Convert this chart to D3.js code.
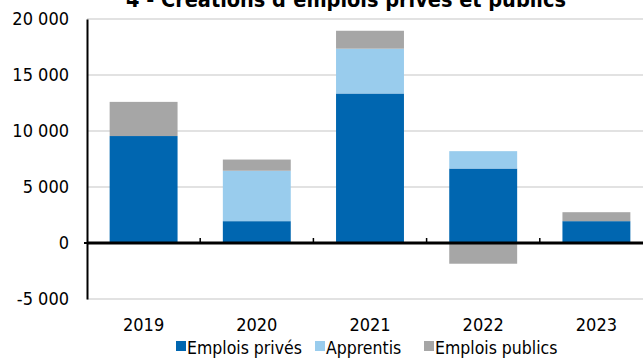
<!DOCTYPE html>
<html>
<head>
<meta charset="utf-8">
<script src="https://cdn.jsdelivr.net/npm/d3@7"></script>
<style>
  html, body { margin: 0; padding: 0; background: #fff; overflow: hidden; }
  svg { display: block; font-family: "DejaVu Sans Condensed", "DejaVu Sans", sans-serif; }
</style>
</head>
<body>
<div id="chart"></div>
<script>
const years = ['2019', '2020', '2021', '2022', '2023'];
const emploisPrives = [9550, 1950, 13350, 6650, 1950];
const apprentis = [0, 4500, 4000, 1550, 0];
const emploisPublics = [3050, 1000, 1600, -1850, 800];
const yTicks = [-5000, 0, 5000, 10000, 15000, 20000];

const seriesNames = ['Emplois privés', 'Apprentis', 'Emplois publics'];
const colors = ['#0066b0', '#99cced', '#a6a6a6'];

const width = 643, height = 358;
const margin = { top: 19, left: 87, bottom: 59 };
const plotWidth = 566;

const svg = d3.select('#chart').append('svg')
    .attr('width', width)
    .attr('height', height);

const x = d3.scaleBand()
    .domain(years)
    .range([margin.left, margin.left + plotWidth])
    .paddingInner(0.4)
    .paddingOuter(0.2);

const y = d3.scaleLinear()
    .domain([-5000, 20000])
    .range([height - margin.bottom, margin.top]);

// gridlines
svg.append('g')
    .selectAll('line')
    .data(yTicks.filter(d => d !== 0))
    .join('line')
    .attr('x1', margin.left)
    .attr('x2', margin.left + plotWidth)
    .attr('y1', d => y(d))
    .attr('y2', d => y(d))
    .attr('stroke', '#d9d9d9')
    .attr('stroke-width', 1.5);

// stack: positives go up from 0, negatives go down from 0
const seriesData = [emploisPrives, apprentis, emploisPublics];
const bars = [];
years.forEach((yr, i) => {
  let pos = 0, neg = 0;
  seriesData.forEach((vals, s) => {
    const v = vals[i];
    if (v === 0) return;
    let y0, y1;
    if (v > 0) { y0 = pos; y1 = pos + v; pos = y1; }
    else { y0 = neg; y1 = neg + v; neg = y1; }
    bars.push({ year: yr, s, y0, y1 });
  });
});

svg.append('g')
    .selectAll('rect')
    .data(bars)
    .join('rect')
    .attr('x', d => x(d.year))
    .attr('width', x.bandwidth())
    .attr('y', d => y(Math.max(d.y0, d.y1)))
    .attr('height', d => Math.abs(y(d.y0) - y(d.y1)))
    .attr('fill', d => colors[d.s]);

// y axis
const yAxis = d3.axisLeft(y)
    .tickValues(yTicks)
    .tickSize(0)
    .tickPadding(18)
    .tickFormat(d => d3.format(',')(d).replace(/,/g, ' ').replace('\u2212', '-'));

const yAxisG = svg.append('g')
    .attr('transform', `translate(${margin.left},0)`)
    .call(yAxis);
yAxisG.select('.domain').attr('stroke', '#000').attr('stroke-width', 2);
yAxisG.selectAll('text').attr('font-size', 18).attr('fill', '#000')
    .attr('font-family', '"DejaVu Sans Condensed", "DejaVu Sans", sans-serif');

// small tick at zero on the y axis
svg.append('line')
    .attr('x1', margin.left - 3).attr('x2', margin.left)
    .attr('y1', y(0)).attr('y2', y(0))
    .attr('stroke', '#000').attr('stroke-width', 2);

// zero line with category ticks
const zeroG = svg.append('g')
    .attr('transform', `translate(0,${y(0)})`);
zeroG.append('line')
    .attr('x1', margin.left).attr('x2', margin.left + plotWidth)
    .attr('stroke', '#000').attr('stroke-width', 3);
zeroG.selectAll('.ctick')
    .data(years.slice(1))
    .join('line')
    .attr('class', 'ctick')
    .attr('x1', d => x(d) - x.step() * x.paddingInner() / 2)
    .attr('x2', d => x(d) - x.step() * x.paddingInner() / 2)
    .attr('y1', -5).attr('y2', 0)
    .attr('stroke', '#000').attr('stroke-width', 1.5);

// x labels
svg.append('g')
    .selectAll('text')
    .data(years)
    .join('text')
    .attr('x', d => x(d) + x.bandwidth() / 2)
    .attr('y', 331)
    .attr('text-anchor', 'middle')
    .attr('font-size', 18)
    .text(d => d);

// title (partly above the top edge, as in the original)
svg.append('text')
    .attr('x', 346)
    .attr('y', 7)
    .attr('text-anchor', 'middle')
    .attr('font-size', 21.5)
    .attr('font-weight', 'bold')
    .text('4 - Créations d\u2019emplois privés et publics');

// legend
const legendX = [176, 315, 424];
const legend = svg.append('g')
    .selectAll('g')
    .data(seriesNames)
    .join('g')
    .attr('transform', (d, i) => `translate(${legendX[i]},341)`);
legend.append('rect')
    .attr('width', 10).attr('height', 10)
    .attr('fill', (d, i) => colors[i]);
legend.append('text')
    .attr('x', 11)
    .attr('y', 13)
    .attr('font-size', 17.5)
    .text(d => d);
</script>
</body>
</html>
